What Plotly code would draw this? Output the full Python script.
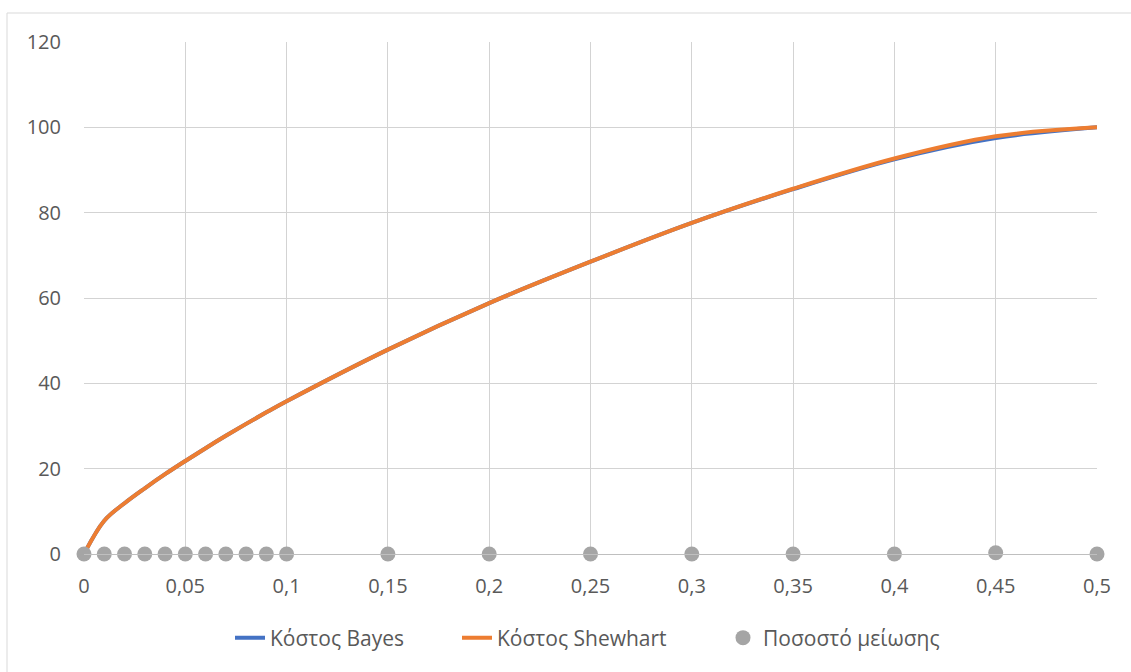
import plotly.graph_objects as go

x_vals = [0, 0.01, 0.02, 0.03, 0.04, 0.05, 0.06, 0.07, 0.08, 0.09, 0.1,
          0.15, 0.2, 0.25, 0.3, 0.35, 0.4, 0.45, 0.5]
cost_bayes = [0, 7.8, 11.9, 15.4, 18.7, 21.8, 24.8, 27.7, 30.5, 33.2, 35.8,
              47.9, 58.8, 68.5, 77.6, 85.5, 92.5, 97.5, 100]
cost_shewhart = [0, 7.8, 11.9, 15.4, 18.7, 21.8, 24.8, 27.7, 30.5, 33.2, 35.8,
                 47.9, 58.8, 68.5, 77.6, 85.6, 92.7, 97.9, 100]
reduction_pct = [0, 0, 0, 0, 0, 0, 0, 0, 0, 0, 0,
                 0, 0, 0, 0, 0, 0, 0.3, 0]

names = ["Κόστος Bayes", "Κόστος Shewhart", "Ποσοστό μείωσης"]

FONT = "Open Sans"
TXT = "#595959"

fig = go.Figure()
fig.add_trace(go.Scatter(x=x_vals, y=cost_bayes, mode="lines", name=names[0],
                         line=dict(color="#4472C4", width=4, shape="spline", smoothing=1),
                         cliponaxis=False, legend="legend", showlegend=True))
fig.add_trace(go.Scatter(x=x_vals, y=cost_shewhart, mode="lines", name=names[1],
                         line=dict(color="#ED7D31", width=4, shape="spline", smoothing=1),
                         cliponaxis=False, legend="legend2", showlegend=True))
fig.add_trace(go.Scatter(x=x_vals, y=reduction_pct, mode="markers", name=names[2],
                         marker=dict(color="#A5A5A5", size=15),
                         cliponaxis=False, legend="legend3", showlegend=True))

W, H = 1131, 672
L, R, T, B = 84, 1097, 42, 554
pw, ph = R - L, B - T

def px_x(p):
    return (p - L) / pw

def px_y(p):
    return (B - p) / ph

leg_common = dict(orientation="h", font=dict(family=FONT, size=21, color=TXT),
                  bgcolor="rgba(0,0,0,0)", yanchor="middle", xanchor="left",
                  y=px_y(638), itemwidth=30, visible=True)

fig.update_layout(
    width=W, height=H,
    margin=dict(l=L, r=W - R, t=T, b=H - B),
    paper_bgcolor="white", plot_bgcolor="white",
    separators=",.",
    showlegend=True,
    font=dict(family=FONT, color=TXT),
    legend=dict(x=px_x(230), **leg_common),
    legend2=dict(x=px_x(457), **leg_common),
    legend3=dict(x=px_x(723), **leg_common),
    xaxis=dict(range=[0, 0.5], dtick=0.05, tick0=0, showgrid=True,
               gridcolor="#d3d3d3", gridwidth=1, zeroline=False,
               showline=True, linecolor="#bfbfbf", linewidth=1,
               ticks="outside", ticklen=14, tickcolor="rgba(0,0,0,0)",
               tickfont=dict(family=FONT, size=20, color=TXT)),
    yaxis=dict(range=[0, 120], dtick=20, showgrid=True,
               gridcolor="#d3d3d3", gridwidth=1, zeroline=False,
               showline=False,
               ticks="outside", ticklen=18, tickcolor="rgba(0,0,0,0)",
               tickfont=dict(family=FONT, size=20, color=TXT)),
    shapes=[dict(type="rect", xref="paper", yref="paper",
                 x0=px_x(7), x1=px_x(1140), y0=px_y(690), y1=px_y(13),
                 line=dict(color="#d9d9d9", width=1), layer="below")],
)

fig.write_html("out.html")
